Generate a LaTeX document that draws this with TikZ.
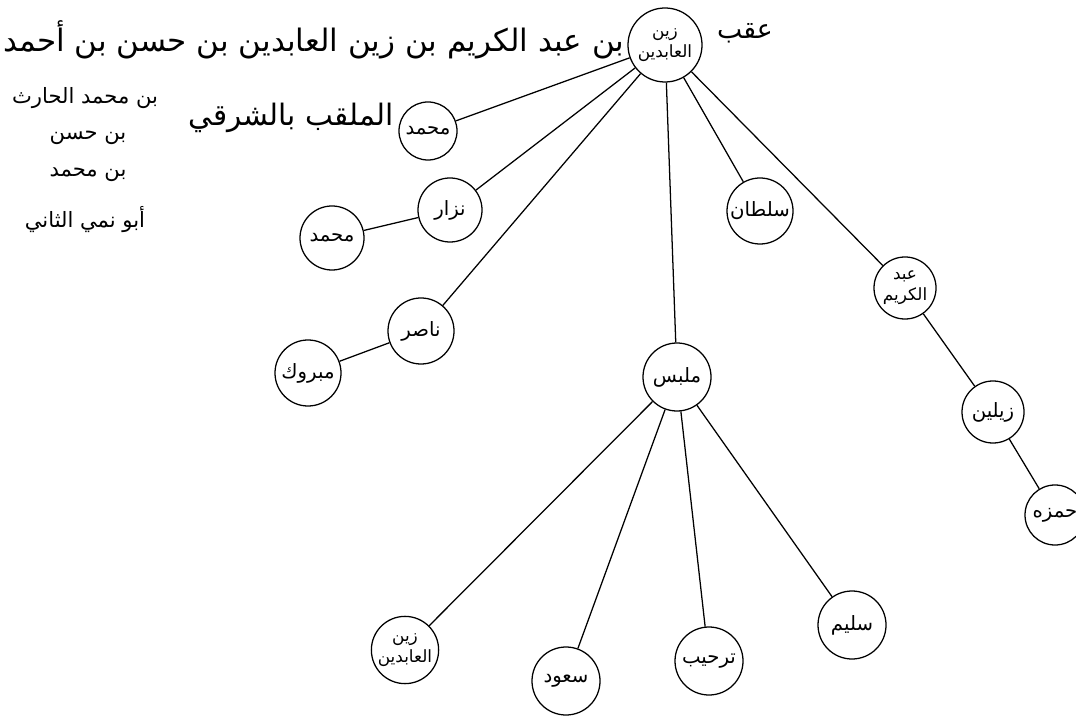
\documentclass[tikz,border=0pt]{standalone}
\usepackage{fontspec}
\newfontfamily\arabicfont[Script=Arabic]{DejaVu Sans}
\TeXXeTstate=1
\newcommand{\ar}[1]{{\arabicfont\beginR #1\endR}}

\begin{document}
\begin{tikzpicture}[x=0.025cm,y=-0.025cm,line width=0.9pt,
    person/.style={circle,draw,minimum size=1.65cm,inner sep=1pt,
        font=\arabicfont\fontsize{14}{16}\selectfont,align=center},
    twolines/.style={font=\arabicfont\fontsize{12}{15}\selectfont},
    note/.style={font=\arabicfont\fontsize{19}{22}\selectfont,inner sep=0pt},
    side/.style={font=\arabicfont\fontsize{15}{17}\selectfont,inner sep=0pt}]
    \useasboundingbox (0,0) rectangle (1076,720);
    \clip (0,0) rectangle (1076,720);
    % the line of descent written at the top
    \node[person,twolines,minimum size=1.85cm] (zain) at (665,45) {\ar{زين}\\\ar{العابدين}};
    \node[note] (aqib) at (745,33) {\ar{عقب}};
    \node[note,anchor=east,font=\arabicfont\fontsize{22}{24}\selectfont] (nasab) at (625,40)
        {\ar{بن عبد الكريم بن زين العابدين بن حسن بن أحمد}};
    \node[side] (harith) at (85,98) {\ar{بن محمد الحارث}};
    \node[side] (hasan) at (88,138) {\ar{بن حسن}};
    \node[side] (muh) at (88,175) {\ar{بن محمد}};
    \node[side] (abunumay) at (85,220) {\ar{أبو نمي الثاني}};
    % sons of zain al-abidin
    \node[person,minimum size=1.45cm] (muhammad) at (428,131) {\ar{محمد}};
    \node[note,anchor=east,font=\arabicfont\fontsize{21}{24}\selectfont] (sharqi) at (394,118) {\ar{الملقب بالشرقي}};
    \node[person,minimum size=1.6cm] (nizar) at (450,210) {\ar{نزار}};
    \node[person,minimum size=1.6cm] (muhammadb) at (332,238) {\ar{محمد}};
    \node[person] (nasir) at (421,331) {\ar{ناصر}};
    \node[person] (mabruk) at (308,373) {\ar{مبروك}};
    \node[person] (sultan) at (760,211) {\ar{سلطان}};
    \node[person,minimum size=1.7cm] (malbas) at (677,377) {\ar{ملبس}};
    \node[person,twolines,minimum size=1.55cm] (karim) at (905,288) {\ar{عبد}\\\ar{الكريم}};
    \node[person,minimum size=1.55cm] (zailin) at (993,412) {\ar{زيلين}};
    \node[person,minimum size=1.5cm] (hamza) at (1055,515) {\ar{حمزه}};
    % sons of malbas
    \node[person,twolines] (zainb) at (405,650) {\ar{زين}\\\ar{العابدين}};
    \node[person,minimum size=1.7cm] (saud) at (566,681) {\ar{سعود}};
    \node[person,minimum size=1.7cm] (tarhib) at (709,661) {\ar{ترحيب}};
    \node[person,minimum size=1.7cm] (salim) at (852,625) {\ar{سليم}};
    % the lines
    \foreach \s in {muhammad,nizar,nasir,malbas,sultan,karim}
        \draw (zain) -- (\s);
    \draw (nizar) -- (muhammadb);
    \draw (nasir) -- (mabruk);
    \foreach \s in {zainb,saud,tarhib,salim}
        \draw (malbas) -- (\s);
    \draw (karim) -- (zailin) -- (hamza);
\end{tikzpicture}
\end{document}
